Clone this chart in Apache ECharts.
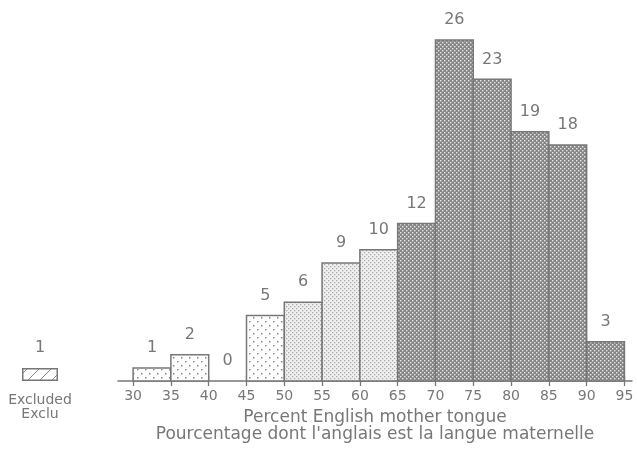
<!DOCTYPE html>
<html><head><meta charset="utf-8">
<script src="https://cdn.jsdelivr.net/npm/echarts@6/dist/echarts.min.js"></script>
<style>html,body{margin:0;padding:0;background:#fff}#c{width:637px;height:450px}</style>
</head><body><div id="c"></div>
<script>
const binStarts = [30,35,40,45,50,55,60,65,70,75,80,85,90];
const counts = [1,2,0,5,6,9,10,12,26,23,19,18,3];
const patternGroup = ['sparse','sparse','sparse','sparse','fine','fine','fine','dark','dark','dark','dark','dark','dark'];
const tickLabels = [30,35,40,45,50,55,60,65,70,75,80,85,90,95];
const excludedCount = [1];
const excludedLabel = ['Excluded\nExclu'];
const xTitle = "Percent English mother tongue\nPourcentage dont l'anglais est la langue maternelle";

const GRAY = '#777777';
function makePattern(kind){
  const c = document.createElement('canvas');
  const ctx = c.getContext('2d');
  if(kind==='sparse'){
    c.width=8;c.height=8;
    ctx.fillStyle='#fff';ctx.fillRect(0,0,8,8);
    ctx.fillStyle='#888';
    ctx.fillRect(1,1,1.5,1.5);ctx.fillRect(5,5,1.5,1.5);
  } else if(kind==='fine'){
    c.width=4;c.height=4;
    ctx.fillStyle='#f0f0f0';ctx.fillRect(0,0,4,4);
    ctx.fillStyle='#a8a8a8';
    ctx.fillRect(0,0,1.3,1.3);ctx.fillRect(2,2,1.3,1.3);
  } else if(kind==='dark'){
    c.width=4;c.height=4;
    ctx.fillStyle='#858585';ctx.fillRect(0,0,4,4);
    ctx.fillStyle='#e8e8e8';
    ctx.fillRect(0,0,1.4,1.4);ctx.fillRect(2,2,1.4,1.4);
  } else if(kind==='hatch'){
    c.width=12;c.height=12;
    ctx.fillStyle='#fff';ctx.fillRect(0,0,12,12);
    ctx.strokeStyle='#888';ctx.lineWidth=1;
    ctx.beginPath();ctx.moveTo(0,12);ctx.lineTo(12,0);ctx.stroke();
  }
  return {image:c, repeat:'repeat'};
}
const patterns = {sparse:makePattern('sparse'),fine:makePattern('fine'),dark:makePattern('dark'),hatch:makePattern('hatch')};

const data = binStarts.map((s,i)=>[s, s+5, counts[i], i]);
const font = 'DejaVu Sans';

const chart = echarts.init(document.getElementById('c'));
chart.setOption({
  animation:false,
  grid:[
    {left:118,right:5,top:40,bottom:69},
    {left:22,width:36,top:40,bottom:69}
  ],
  xAxis:[
    {type:'value',gridIndex:0,min:28,max:96,
     axisLine:{show:true,lineStyle:{color:GRAY,width:1.5}},
     axisTick:{show:true,inside:false,length:5,customValues:tickLabels,lineStyle:{color:GRAY,width:1.3}},
     axisLabel:{customValues:tickLabels,color:GRAY,fontFamily:font,fontSize:14,margin:8},
     splitLine:{show:false},
     name:xTitle,nameLocation:'middle',nameGap:28,
     nameTextStyle:{color:GRAY,fontFamily:font,fontSize:17,lineHeight:17}},
    {type:'value',gridIndex:0,min:28,max:96,position:'bottom',
     axisLine:{show:false},
     axisTick:{show:true,inside:true,length:5,customValues:tickLabels,lineStyle:{color:GRAY,width:1.3}},
     axisLabel:{show:false},splitLine:{show:false}},
    {type:'category',gridIndex:1,data:excludedLabel,
     axisLine:{show:false},axisTick:{show:false},
     axisLabel:{color:GRAY,fontFamily:font,fontSize:14,lineHeight:14,margin:12},
     splitLine:{show:false}}
  ],
  yAxis:[
    {type:'value',gridIndex:0,min:0,max:26,show:false},
    {type:'value',gridIndex:1,min:0,max:26,show:false}
  ],
  series:[
    {type:'custom',xAxisIndex:0,yAxisIndex:0,data:data,
     renderItem:function(params,api){
       const lo=api.value(0),hi=api.value(1),v=api.value(2),idx=api.value(3);
       const p0=api.coord([lo,v]);const p1=api.coord([hi,0]);
       const children=[];
       if(v>0){
         children.push({type:'rect',shape:{x:p0[0],y:p0[1],width:p1[0]-p0[0],height:p1[1]-p0[1]},
           style:{fill:patterns[patternGroup[idx]],stroke:GRAY,lineWidth:1.5}});
       }
       children.push({type:'text',style:{text:String(v),x:(p0[0]+p1[0])/2,y:p0[1]-12,
         align:'center',verticalAlign:'bottom',fill:GRAY,font:'16px "DejaVu Sans"'}});
       return {type:'group',children:children};
     },z:2},
    {type:'bar',xAxisIndex:2,yAxisIndex:1,data:excludedCount,barWidth:'100%',
     itemStyle:{color:patterns.hatch,borderColor:GRAY,borderWidth:1.5},
     label:{show:true,position:'top',distance:12,color:GRAY,fontFamily:font,fontSize:16}}
  ]
});
</script></body></html>
